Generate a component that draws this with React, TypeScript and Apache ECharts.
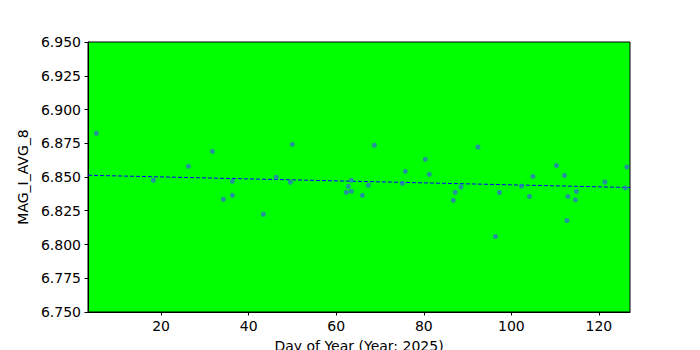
import React, { useEffect, useRef } from "react";
import * as echarts from "echarts";

const days = [5.23, 18.24, 26.23, 31.71, 34.22, 36.28, 36.28, 43.36, 46.32, 49.52, 49.98, 62.31, 62.76, 63.45, 63.45, 65.96, 67.33, 68.7, 75.09, 75.78, 80.34, 81.26, 86.74, 87.19, 88.49, 92.37, 96.37, 97.28, 102.31, 104.13, 104.93, 110.3, 112.12, 112.69, 112.92, 114.63, 114.86, 121.37, 126.05, 126.39];
const mags = [6.8824, 6.8476, 6.8579, 6.869, 6.8335, 6.8468, 6.8364, 6.8224, 6.8498, 6.8461, 6.8742, 6.8387, 6.8431, 6.8476, 6.8394, 6.8364, 6.8439, 6.8735, 6.8453, 6.8542, 6.8631, 6.852, 6.8327, 6.8387, 6.8426, 6.8722, 6.8059, 6.8385, 6.8433, 6.8356, 6.8504, 6.8585, 6.8511, 6.8178, 6.8356, 6.833, 6.8393, 6.8463, 6.8419, 6.8574];
const trendX = [3.3, 127.1];
const trendY = [6.8513, 6.8422];
const xTicks = [20, 40, 60, 80, 100, 120];
const yTicks = [6.75, 6.775, 6.8, 6.825, 6.85, 6.875, 6.9, 6.925, 6.95];

export default function App() {
  const ref = useRef<HTMLDivElement>(null);
  useEffect(() => {
    if (!ref.current) return;
    const chart = echarts.init(ref.current, null, { renderer: "svg" });
    const font = "DejaVu Sans";
    chart.setOption({
      animation: false,
      textStyle: { fontFamily: font },
      grid: {
        left: 88,
        right: 70,
        top: 42,
        bottom: 38,
        outerBoundsMode: "none",
        containLabel: false,
        show: true,
        backgroundColor: "#00ff00",
        borderColor: "#000",
        borderWidth: 1,
      },
      xAxis: {
        type: "value",
        min: 3.3,
        max: 127.1,
        name: "Day of Year (Year: 2025)",
        nameLocation: "middle",
        nameGap: 27,
        nameTextStyle: { fontSize: 14, color: "#000", fontFamily: font },
        axisLine: { show: true, lineStyle: { color: "#000" } },
        axisTick: { show: true, length: 3.5, lineStyle: { color: "#000" }, customValues: xTicks },
        axisLabel: { fontSize: 14, color: "#000", margin: 7, fontFamily: font, customValues: xTicks },
        splitLine: { show: false },
      },
      yAxis: {
        type: "value",
        min: 6.75,
        max: 6.95,
        name: "MAG_I_AVG_8",
        nameLocation: "middle",
        nameGap: 50,
        nameTextStyle: { fontSize: 14, color: "#000", fontFamily: font },
        axisLine: { show: true, lineStyle: { color: "#000" } },
        axisTick: { show: true, length: 3.5, lineStyle: { color: "#000" }, customValues: yTicks },
        axisLabel: {
          fontSize: 14,
          color: "#000",
          margin: 7,
          fontFamily: font,
          customValues: yTicks,
          formatter: (v: number) => v.toFixed(3),
        },
        splitLine: { show: false },
      },
      series: [
        {
          type: "scatter",
          data: days.map((d, i) => [d, mags[i]]),
          symbol: "circle",
          symbolSize: 5,
          itemStyle: { color: "#2b77c4" },
          z: 3,
        },
        {
          type: "line",
          data: trendX.map((d, i) => [d, trendY[i]]),
          symbol: "none",
          lineStyle: { color: "#0000ff", width: 1, type: [4, 2] },
          z: 2,
        },
      ],
    });
    return () => chart.dispose();
  }, []);
  return <div ref={ref} style={{ width: 700, height: 350, position: "absolute", left: 0, top: 0 }} />;
}
